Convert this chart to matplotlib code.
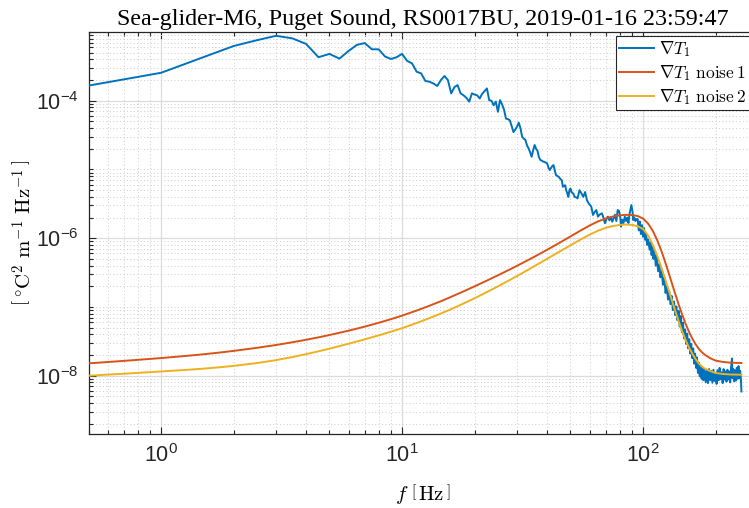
import numpy as np
import matplotlib
matplotlib.use("Agg")
import matplotlib.pyplot as plt
from matplotlib.ticker import FixedLocator, FuncFormatter, NullFormatter

plt.rcParams['mathtext.fontset'] = 'cm'
plt.rcParams['font.family'] = ['Liberation Sans', 'DejaVu Sans']

title = "Sea-glider-M6, Puget Sound, RS0017BU, 2019-01-16 23:59:47"
legend_labels = [r'$\nabla T_1$', r'$\nabla T_1\ \mathrm{noise}\,1$', r'$\nabla T_1\ \mathrm{noise}\,2$']

# Measured gradient spectrum (frequency Hz, value)
grad_f = [0.5, 1.0, 1.5, 2.0, 2.5, 3.0, 3.5, 4.0, 4.5, 5.0, 5.5, 6.0, 6.5, 7.0, 7.5, 8.0,
          8.5, 9.0, 9.5, 10.0, 10.5, 11.0, 11.5, 12.0, 12.5, 13.0, 13.5, 14.0, 14.5, 15.0,
          15.5, 16.0, 16.5, 17.0, 17.5, 18.0, 18.5, 19.0, 19.5, 20.0, 20.5, 21.0, 21.5, 22.0,
          22.5, 23.0, 23.5, 24.0, 24.5, 25.0, 25.5, 26.0, 26.5, 27.0, 27.5, 28.0, 28.5, 29.0,
          29.5, 30.0, 30.5, 31.0, 31.5, 32.0, 32.5, 33.0, 33.5, 34.0, 34.5, 35.0, 35.5, 36.0,
          36.5, 37.0, 37.5, 38.0, 38.5, 39.0, 39.5, 40.0, 40.5, 41.0, 41.5, 42.0, 42.5, 43.0,
          43.5, 44.0, 44.5, 45.0, 45.5, 46.0, 46.5, 47.0, 47.5, 48.0, 48.5, 49.0, 49.5, 50.0,
          50.5, 51.5, 52.0, 53.0, 53.5, 54.5, 55.5, 56.5, 57.5, 58.5, 59.5, 60.5, 61.0, 62.0,
          63.0, 64.0, 65.0, 66.0, 67.5, 68.5, 69.5, 70.5, 71.5, 72.5, 73.5, 74.5, 75.5, 76.5,
          77.5, 78.5, 79.5, 80.5, 81.0, 82.0, 83.0, 84.0, 85.0, 86.0, 87.0, 88.0, 89.5, 90.5,
          91.0, 92.0, 93.0, 94.0, 95.0, 96.0, 97.0, 98.0, 99.0, 100.0, 101.0, 102.0, 103.0,
          104.0, 105.0, 106.5, 107.5, 108.5, 109.5, 110.5, 111.5, 113.0, 114.0, 115.5, 117.0,
          118.0, 119.5, 121.0, 122.5, 124.0, 125.5, 127.0, 128.5, 130.0, 131.5, 133.0, 134.5,
          136.0, 137.5, 139.0, 140.5, 142.0, 143.5, 145.0, 146.5, 148.0, 149.5, 151.0, 152.5,
          154.0, 155.5, 157.0, 158.5, 160.0, 161.5, 163.0, 164.5, 166.0, 167.5, 169.0, 170.5,
          172.0, 173.5, 175.0, 176.5, 178.0, 180.0, 182.0, 184.0, 186.0, 188.0, 190.0, 192.0,
          194.0, 196.0, 198.0, 200.0, 202.0, 204.0, 206.0, 208.0, 210.0, 212.0, 214.0, 216.0,
          218.0, 220.0, 222.0, 224.0, 226.0, 228.0, 230.0, 232.0, 234.0, 235.0, 237.0, 239.0,
          241.0, 243.0, 245.0, 247.0, 249.0, 251.0, 253.0, 255.0, 256.0]
grad_p = [1.66e-4, 2.55e-4, 4.3e-4, 6.25e-4, 7.6e-4, 8.8e-4, 8.1e-4, 6.7e-4, 4.3e-4, 4.8e-4,
          4.1e-4, 5.3e-4, 6.5e-4, 6.9e-4, 5.6e-4, 5.6e-4, 4.4e-4, 4.05e-4, 4.3e-4, 4.8e-4,
          3.8e-4, 3.5e-4, 2.64e-4, 2.5e-4, 1.94e-4, 1.89e-4, 1.78e-4, 1.64e-4, 2.0e-4, 2.29e-4,
          2.0e-4, 1.28e-4, 1.58e-4, 1.69e-4, 1.28e-4, 1.2e-4, 1.1e-4, 9.7e-5, 1.28e-4, 1.23e-4,
          1.2e-4, 1.08e-4, 1.26e-4, 1.38e-4, 1.51e-4, 1.02e-4, 1.0e-4, 8.6e-5, 9.7e-5, 6.9e-5,
          1.02e-4, 8.9e-5, 7.4e-5, 5.5e-5, 5.4e-5, 5.2e-5, 4.3e-5, 3.5e-5, 3.8e-5, 4.2e-5,
          4.8e-5, 4.0e-5, 3.0e-5, 2.8e-5, 2.7e-5, 2.24e-5, 2.03e-5, 1.78e-5, 1.53e-5, 1.9e-5,
          2.27e-5, 2.0e-5, 1.86e-5, 1.51e-5, 1.37e-5, 1.35e-5, 1.3e-5, 1.29e-5, 1.26e-5, 1.23e-5,
          1.07e-5, 9.8e-6, 1.05e-5, 1.12e-5, 1.16e-5, 9.8e-6, 8.3e-6, 8.1e-6, 7.9e-6, 7.6e-6,
          7.2e-6, 7.0e-6, 5.6e-6, 5.8e-6, 5.9e-6, 5.0e-6, 4.5e-6, 4.0e-6, 5.0e-6, 5.3e-6,
          4.7e-6, 4.4e-6, 4.0e-6, 3.9e-6, 3.8e-6, 5.0e-6, 4.5e-6, 4.0e-6, 4.7e-6, 3.6e-6,
          3.2e-6, 3.0e-6, 2.87e-6, 2.18e-6, 2.4e-6, 2.57e-6, 2.06e-6, 2.2e-6, 2.3e-6, 2.0e-6,
          1.65e-6, 1.9e-6, 2.06e-6, 1.82e-6, 2.04e-6, 1.74e-6, 1.95e-6, 2.2e-6, 1.78e-6, 2.57e-6,
          2.5e-6, 2.0e-6, 1.47e-6, 1.86e-6, 1.66e-6, 2.06e-6, 1.78e-6, 2.0e-6, 1.66e-6, 2.3e-6,
          3.04e-6, 2.4e-6, 1.84e-6, 2.0e-6, 1.78e-6, 1.9e-6, 1.9e-6, 1.3e-6, 1.75e-6, 1.15e-6,
          1.55e-6, 1.05e-6, 1.4e-6, 9.5e-7, 1.15e-6, 8.0e-7, 9.6e-7, 6.8e-7, 8.8e-7, 5.7e-7,
          7.5e-7, 5.0e-7, 6.6e-7, 4.0e-7, 5.6e-7, 3.3e-7, 4.2e-7, 2.7e-7, 3.4e-7, 2.1e-7,
          2.7e-7, 1.6e-7, 2.0e-7, 1.28e-7, 1.7e-7, 1.1e-7, 1.45e-7, 9.0e-8, 1.2e-7, 7.6e-8,
          1.02e-7, 6.4e-8, 8.8e-8, 5.2e-8, 7.4e-8, 4.3e-8, 5.9e-8, 3.5e-8, 4.7e-8, 2.9e-8,
          4.1e-8, 2.5e-8, 3.4e-8, 2.1e-8, 2.9e-8, 1.8e-8, 2.5e-8, 1.5e-8, 2.1e-8, 1.3e-8,
          1.85e-8, 1.1e-8, 1.55e-8, 9.8e-9, 1.4e-8, 9.0e-9, 1.3e-8, 8.6e-9, 1.22e-8, 8.0e-9,
          1.2e-8, 7.8e-9, 1.25e-8, 8.6e-9, 1.18e-8, 7.9e-9, 1.22e-8, 8.4e-9, 1.1e-8, 7.6e-9,
          1.2e-8, 8.6e-9, 1.3e-8, 8.9e-9, 1.12e-8, 7.8e-9, 1.25e-8, 8.8e-9, 1.15e-8, 8.2e-9,
          1.22e-8, 8.8e-9, 1.15e-8, 8.0e-9, 1.35e-8, 1.78e-8, 9.2e-9, 1.25e-8, 8.3e-9, 1.2e-8,
          8.5e-9, 1.3e-8, 9.0e-9, 1.38e-8, 9.2e-9, 1.18e-8, 8.6e-9, 5.9e-9]

# Noise models: frequency (Hz) and log10 of the spectral value
noise_f = [0.5, 0.6, 0.7, 0.85, 1.0, 1.25, 1.5, 1.75, 2.0, 2.5, 3.0, 3.5, 4.0, 4.5, 5.0, 6.0,
           7.0, 8.0, 9.0, 10.0, 11.5, 13.0, 14.5, 16.0, 18.0, 20.0, 22.5, 25.0, 27.5, 30.0,
           33.0, 36.0, 40.0, 45.0, 50.0, 55.0, 60.0, 65.0, 70.0, 75.0, 80.0, 85.0, 90.0, 95.0,
           100.0, 105.0, 110.0, 115.0, 120.0, 125.0, 130.0, 135.0, 140.0, 145.0, 150.0, 155.0,
           160.0, 165.0, 170.0, 175.0, 180.0, 190.0, 200.0, 215.0, 230.0, 256.0]
noise1_log10p = [-7.820, -7.801, -7.784, -7.762, -7.743, -7.714, -7.688, -7.663, -7.639,
                 -7.594, -7.553, -7.514, -7.477, -7.442, -7.408, -7.345, -7.286, -7.230,
                 -7.177, -7.126, -7.052, -6.982, -6.916, -6.852, -6.773, -6.700, -6.616,
                 -6.539, -6.468, -6.401, -6.326, -6.256, -6.168, -6.067, -5.974, -5.889,
                 -5.815, -5.756, -5.713, -5.684, -5.667, -5.660, -5.663, -5.677, -5.713,
                 -5.787, -5.898, -6.043, -6.213, -6.399, -6.589, -6.773, -6.945, -7.102,
                 -7.240, -7.358, -7.457, -7.539, -7.604, -7.654, -7.692, -7.745, -7.780,
                 -7.800, -7.810, -7.815]
noise2_log10p = [-8.000, -7.984, -7.971, -7.953, -7.938, -7.917, -7.897, -7.877, -7.857,
                 -7.816, -7.773, -7.729, -7.686, -7.645, -7.606, -7.535, -7.471, -7.413,
                 -7.359, -7.309, -7.233, -7.162, -7.095, -7.031, -6.949, -6.873, -6.783,
                 -6.700, -6.622, -6.550, -6.468, -6.392, -6.299, -6.195, -6.103, -6.020,
                 -5.948, -5.891, -5.849, -5.822, -5.807, -5.801, -5.806, -5.825, -5.865,
                 -5.960, -6.101, -6.271, -6.456, -6.647, -6.837, -7.021, -7.192, -7.344,
                 -7.476, -7.587, -7.677, -7.755, -7.817, -7.862, -7.894, -7.932, -7.960,
                 -7.975, -7.982, -7.985]

colors = ['#0072BD', '#D95319', '#EDB120']

W, H = 749, 508
fig = plt.figure(figsize=(W / 100, H / 100), dpi=100)
ax = fig.add_axes([88.5 / W, (H - 434) / H, (758 - 88.5) / W, (434 - 32) / H])

ax.plot(grad_f, grad_p, color=colors[0], lw=1.4, label=legend_labels[0], zorder=3)
ax.plot(noise_f, 10.0 ** np.array(noise1_log10p), color=colors[1], lw=1.4,
        label=legend_labels[1], zorder=4)
ax.plot(noise_f, 10.0 ** np.array(noise2_log10p), color=colors[2], lw=1.4,
        label=legend_labels[2], zorder=5)

ax.set_xscale('log')
ax.set_yscale('log')
ax.set_xlim(0.5, 300)
ax.set_ylim(1.42e-9, 1e-3)

# ticks
ax.xaxis.set_major_locator(FixedLocator([1, 10, 100]))
xminor = [m * 10.0 ** e for e in range(-1, 3) for m in range(2, 10)]
ax.xaxis.set_minor_locator(FixedLocator(xminor))
ax.yaxis.set_major_locator(FixedLocator([1e-8, 1e-6, 1e-4]))
yminor = []
for e in range(-10, -2):
    for m in range(1, 10):
        v = m * 10.0 ** e
        if not (m == 1 and e in (-8, -6, -4)):
            yminor.append(v)
ax.yaxis.set_minor_locator(FixedLocator(yminor))


def fmt(v, pos):
    e = int(round(np.log10(v)))
    return r'$\mathregular{10^{%d}}$' % e


ax.xaxis.set_major_formatter(FuncFormatter(fmt))
ax.yaxis.set_major_formatter(FuncFormatter(fmt))
ax.xaxis.set_minor_formatter(NullFormatter())
ax.yaxis.set_minor_formatter(NullFormatter())

ax.tick_params(which='both', direction='in', top=True, right=True, colors='#262626',
               labelsize=15.5, width=0.8)
ax.tick_params(which='major', length=5, pad=7)
ax.tick_params(which='minor', length=3)

ax.grid(True, which='major', color='#dcdcdc', lw=0.9, ls='-', zorder=0)
ax.grid(True, which='minor', color='#cccccc', lw=0.7, ls=(0, (1, 2.5)), zorder=0)
ax.set_axisbelow(True)
for s in ax.spines.values():
    s.set_color('#262626')
    s.set_linewidth(0.9)

ax.set_title(title, fontfamily='Liberation Serif', fontsize=17.3, pad=5)
ax.set_xlabel(r'$f\ \left[\,\mathrm{Hz}\,\right]$', fontsize=15, labelpad=11)
ax.set_ylabel(r'$\left[\,^{\circ}\mathrm{C}^2\ \mathrm{m}^{-1}\ \mathrm{Hz}^{-1}\,\right]$',
              fontsize=15, labelpad=1)

leg = ax.legend(loc='upper left', bbox_to_anchor=(616 / W, 1 - 36 / H),
                bbox_transform=fig.transFigure, fontsize=12.5, frameon=True, fancybox=False,
                framealpha=1, edgecolor='#262626', borderpad=0.2, labelspacing=0.22,
                handlelength=2.0, handletextpad=0.3, borderaxespad=0)
leg.get_frame().set_linewidth(0.8)

fig.savefig('out.png', dpi=100)
